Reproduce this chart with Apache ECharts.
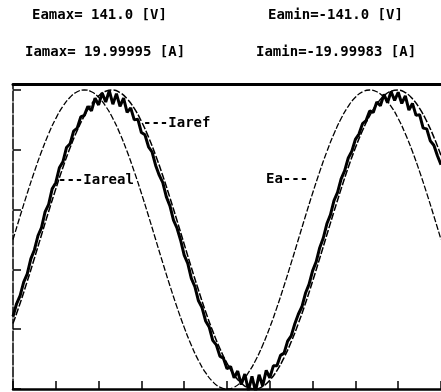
<!DOCTYPE html>
<html>
<head>
<meta charset="utf-8">
<script src="https://cdn.jsdelivr.net/npm/echarts@6/dist/echarts.min.js"></script>
<style>
  html, body { margin: 0; padding: 0; background: #fff; }
  #chart { width: 441px; height: 392px; }
</style>
</head>
<body>
<div id="chart"></div>
<script>
// sampling steps of the recorded waves (ms)
var eaStepMs = 0.5;
var iaStepMs = 0.25;

// Ea [V], every 0.5 ms from 0 to 30 ms
var eaVolts = [
  0, 22.1, 43.6, 64.0, 82.9, 99.7, 114.1, 125.6, 134.1, 139.3, 141.0,
  139.3, 134.1, 125.6, 114.1, 99.7, 82.9, 64.0, 43.6, 22.1, 0,
  -22.1, -43.6, -64.0, -82.9, -99.7, -114.1, -125.6, -134.1, -139.3, -141.0,
  -139.3, -134.1, -125.6, -114.1, -99.7, -82.9, -64.0, -43.6, -22.1, 0,
  22.1, 43.6, 64.0, 82.9, 99.7, 114.1, 125.6, 134.1, 139.3, 141.0,
  139.3, 134.1, 125.6, 114.1, 99.7, 82.9, 64.0, 43.6, 22.1, 0
];

// Iaref [A], every 0.5 ms
var iarefAmps = [
  -11.24, -8.52, -5.58, -2.51, 0.63, 3.75, 6.77, 9.64, 12.26, 14.58,
  16.54, 18.10, 19.21, 19.84, 19.99, 19.65, 18.82, 17.53, 15.80, 13.69,
  11.24, 8.52, 5.58, 2.51, -0.63, -3.75, -6.77, -9.64, -12.26, -14.58,
  -16.54, -18.10, -19.21, -19.84, -19.99, -19.65, -18.82, -17.53, -15.80, -13.69,
  -11.24, -8.52, -5.58, -2.51, 0.63, 3.75, 6.77, 9.64, 12.26, 14.58,
  16.54, 18.10, 19.21, 19.84, 19.99, 19.65, 18.82, 17.53, 15.80, 13.69, 11.24
];

// Iareal [A] (measured, noisy), every 0.25 ms
var iarealAmps = [
  -10.3, -8.6, -7.5, -5.7, -4.6, -2.6, -1.4, 0.5, 1.6, 3.7,
  4.7, 6.8, 7.6, 9.6, 10.4, 12.3, 12.8, 14.5, 14.9, 16.4,
  16.6, 17.8, 17.2, 18.9, 18.0, 19.6, 18.4, 19.9, 18.1, 19.5,
  17.8, 18.9, 17.0, 17.6, 16.0, 16.1, 14.3, 14.0, 12.4, 11.7,
  9.9, 8.6, 7.6, 5.7, 4.5, 2.6, 1.5, -0.1, -2.1, -3.2,
  -5.2, -6.3, -8.2, -9.1, -10.9, -11.7, -13.5, -14.1, -15.6, -15.9,
  -17.3, -17.0, -18.5, -17.6, -19.4, -18.0, -20.2, -18.3, -20.3, -18.1,
  -19.6, -17.5, -18.5, -16.9, -16.9, -15.5, -15.2, -13.6, -12.9, -11.3,
  -10.0, -9.0, -7.2, -6.0, -4.2, -3.0, -1.1, 0.2, 2.1, 3.3,
  5.2, 6.3, 8.1, 9.2, 10.9, 11.8, 13.4, 14.1, 15.5, 15.9,
  17.2, 17.0, 18.4, 17.9, 19.4, 18.3, 19.8, 18.6, 19.7, 18.2,
  19.2, 17.3, 18.2, 16.6, 16.7, 14.9, 14.8, 13.2, 12.6, 11.2, 10.0
];

var readouts = [
  { text: "Eamax= 141.0 [V]", x: 32, y: 15 },
  { text: "Eamin=-141.0 [V]", x: 268, y: 15 },
  { text: "Iamax= 19.99995 [A]", x: 25, y: 52 },
  { text: "Iamin=-19.99983 [A]", x: 256, y: 52 }
];

var curveLabels = [
  { text: "---Iaref", x: 143, y: 123 },
  { text: "---Iareal", x: 58, y: 180 },
  { text: "Ea---", x: 266, y: 179 }
];

function toPairs(values, step) {
  return values.map(function (v, i) { return [i * step, v]; });
}

var chart = echarts.init(document.getElementById("chart"));

var textFont = 'bold 14px "DejaVu Sans Mono"';
var graphics = readouts.concat(curveLabels).map(function (t) {
  return {
    type: "text",
    x: t.x,
    y: t.y,
    style: {
      text: t.text,
      font: textFont,
      fill: "#000",
      textAlign: "left",
      textVerticalAlign: "middle"
    }
  };
});

var option = {
  backgroundColor: "#fff",
  animation: false,
  grid: { left: 13, right: -3, top: 84, bottom: 3 },
  xAxis: [
    {
      type: "value",
      min: 0,
      max: 30,
      interval: 3,
      axisLine: { onZero: false, lineStyle: { color: "#000", width: 2.5 } },
      axisTick: { inside: true, length: 8, lineStyle: { color: "#000", width: 1.5 } },
      axisLabel: { show: false },
      splitLine: { show: false }
    },
    {
      type: "value",
      position: "top",
      min: 0,
      max: 30,
      axisLine: { show: true, onZero: false, lineStyle: { color: "#000", width: 3 } },
      axisTick: { show: false },
      axisLabel: { show: false },
      splitLine: { show: false }
    }
  ],
  yAxis: [
    {
      // division scale of the screen
      type: "value",
      min: 0,
      max: 5.1,
      interval: 1,
      axisLine: { show: true, onZero: false, lineStyle: { color: "#000", width: 1.5, type: [10, 2] } },
      axisTick: { show: true, inside: true, length: 8, lineStyle: { color: "#000", width: 1.5 } },
      axisLabel: { show: false },
      splitLine: { show: false }
    },
    { type: "value", show: false, min: -141, max: 146.64 },
    { type: "value", show: false, min: -20, max: 20.8 }
  ],
  graphic: graphics,
  series: [
    {
      name: "Ea",
      type: "line",
      yAxisIndex: 1,
      smooth: true,
      showSymbol: false,
      lineStyle: { color: "#000", width: 1.3, type: [6, 2] },
      data: toPairs(eaVolts, eaStepMs)
    },
    {
      name: "Iaref",
      type: "line",
      yAxisIndex: 2,
      smooth: true,
      showSymbol: false,
      lineStyle: { color: "#000", width: 1.5, type: [7, 2] },
      data: toPairs(iarefAmps, eaStepMs)
    },
    {
      name: "Iareal",
      type: "line",
      yAxisIndex: 2,
      showSymbol: false,
      lineStyle: { color: "#000", width: 3 },
      data: toPairs(iarealAmps, iaStepMs)
    }
  ]
};

chart.setOption(option);
</script>
</body>
</html>
